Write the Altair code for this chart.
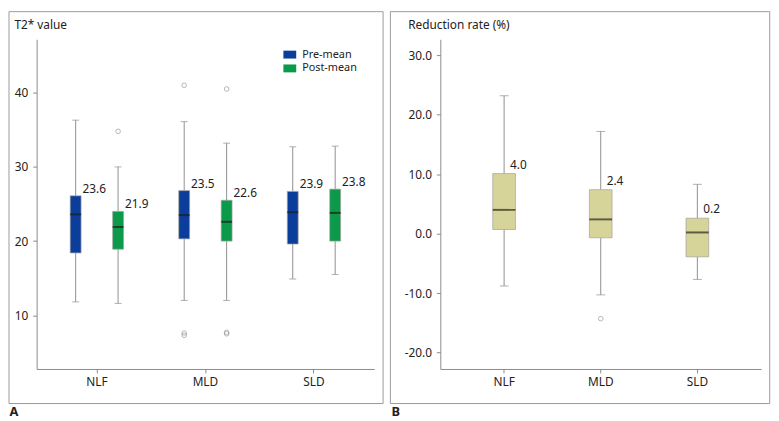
import altair as alt
import pandas as pd

# ---------------- data ----------------
cats = ["NLF", "MLD", "SLD"]
series = ["Pre-mean", "Post-mean"]

pre_min = [11.8, 12.0, 14.9]
pre_q1 = [18.4, 20.3, 19.6]
pre_med = [23.6, 23.5, 23.9]
pre_q3 = [26.1, 26.8, 26.7]
pre_max = [36.3, 36.1, 32.7]

post_min = [11.6, 12.0, 15.5]
post_q1 = [18.9, 20.0, 20.0]
post_med = [21.9, 22.6, 23.8]
post_q3 = [24.0, 25.5, 27.0]
post_max = [30.0, 33.2, 32.8]

out_cat = ["NLF", "MLD", "MLD", "MLD", "MLD", "MLD", "MLD"]
out_series = ["Post-mean", "Pre-mean", "Pre-mean", "Pre-mean", "Post-mean", "Post-mean", "Post-mean"]
out_val = [34.8, 41.0, 7.6, 7.3, 40.5, 7.7, 7.5]

rate_min = [-8.8, -10.3, -7.7]
rate_q1 = [0.7, -0.7, -3.9]
rate_med = [4.0, 2.4, 0.2]
rate_q3 = [10.1, 7.4, 2.6]
rate_max = [23.2, 17.2, 8.3]
rate_out_cat = ["MLD"]
rate_out_val = [-14.3]

left_ticks = [10, 20, 30, 40]
right_ticks = [-20, -10, 0, 10, 20, 30]

# ---------------- styling ----------------
FONT = "Noto Sans"
BLUE = "#0b3d9b"
GREEN = "#0a9a4a"
TAN = "#d7d49a"
WHISK = "#8f8f8f"
MED = "#1c1c1c"
FRAME = "#9a9a9a"

rows = []
for i, c in enumerate(cats):
    rows.append(dict(cat=c, series=series[0], min=pre_min[i], q1=pre_q1[i], med=pre_med[i], q3=pre_q3[i], max=pre_max[i]))
    rows.append(dict(cat=c, series=series[1], min=post_min[i], q1=post_q1[i], med=post_med[i], q3=post_q3[i], max=post_max[i]))
left_df = pd.DataFrame(rows)
left_out = pd.DataFrame(dict(cat=out_cat, series=out_series, val=out_val))

right_df = pd.DataFrame(dict(cat=cats, min=rate_min, q1=rate_q1, med=rate_med, q3=rate_q3, max=rate_max))
right_out = pd.DataFrame(dict(cat=rate_out_cat, val=rate_out_val))

one = pd.DataFrame({"k": [0]})

# ---------------- left panel ----------------
LW, LH = 342, 334
lx = alt.X("cat:N", sort=cats,
           scale=alt.Scale(domain=cats, paddingInner=0.218, paddingOuter=0.164),
           axis=alt.Axis(title="A", labelAngle=0, titleAngle=0, titleAlign="left",
                         titleBaseline="middle", titleX=-28, titleY=43,
                         titleFontWeight="bold", titleFontSize=13))
lxo = alt.XOffset("series:N", scale=alt.Scale(domain=series, paddingInner=0, paddingOuter=0))
lscale = alt.Scale(domain=[2.76, 47.2], nice=False, zero=False)

lbase = alt.Chart(left_df)
l_frame = alt.Chart(one).mark_rect(fillOpacity=0, stroke=FRAME, strokeWidth=1).encode(
    x=alt.value(-28), x2=alt.value(351), y=alt.value(-28), y2=alt.value(369))
l_box = lbase.mark_bar(size=11, stroke="#a0a0a0", strokeWidth=0.7).encode(
    x=lx, xOffset=lxo,
    y=alt.Y("q1:Q", scale=lscale,
            axis=alt.Axis(values=left_ticks, title="T2* value", titleAngle=0, titleAlign="left",
                          titleBaseline="middle", titleX=-23, titleY=-15)),
    y2="q3:Q",
    color=alt.Color("series:N", scale=alt.Scale(domain=series, range=[BLUE, GREEN]),
                    legend=alt.Legend(title=None, orient="none", legendX=250, legendY=9,
                                      symbolType="M-1,-0.615L1,-0.615L1,0.615L-1,0.615Z",
                                      symbolSize=169, symbolStrokeWidth=0, symbolOpacity=1,
                                      labelFont=FONT, labelFontSize=11, labelColor="#222",
                                      labelOffset=6, rowPadding=2, padding=0)))
l_wlo = lbase.mark_rule(color=WHISK).encode(x=lx, xOffset=lxo, y="min:Q", y2="q1:Q")
l_whi = lbase.mark_rule(color=WHISK).encode(x=lx, xOffset=lxo, y="q3:Q", y2="max:Q")
l_clo = lbase.mark_tick(size=7, thickness=1, color=WHISK).encode(x=lx, xOffset=lxo, y="min:Q")
l_chi = lbase.mark_tick(size=7, thickness=1, color=WHISK).encode(x=lx, xOffset=lxo, y="max:Q")
l_med = lbase.mark_tick(size=11, thickness=2, color=MED).encode(x=lx, xOffset=lxo, y="med:Q")
l_txt = lbase.mark_text(align="left", baseline="middle", dx=7, dy=-7, font=FONT,
                        fontSize=12, color="#222").encode(
    x=lx, xOffset=lxo, y="q3:Q", text=alt.Text("med:Q", format=".1f"))
l_out = alt.Chart(left_out).mark_point(shape="circle", filled=False, size=22,
                                       color="#808080", strokeWidth=0.8).encode(
    x=lx, xOffset=lxo, y="val:Q")

left = alt.layer(l_frame, l_wlo, l_whi, l_box, l_med, l_clo, l_chi, l_txt, l_out).properties(
    width=LW, height=LH)

# ---------------- right panel ----------------
RW, RH = 325, 334
rx = alt.X("cat:N", sort=cats,
           scale=alt.Scale(domain=cats, paddingInner=0, paddingOuter=0.16),
           axis=alt.Axis(title="B", labelAngle=0, titleAngle=0, titleAlign="left",
                         titleBaseline="middle", titleX=-50, titleY=43,
                         titleFontWeight="bold", titleFontSize=13))
rscale = alt.Scale(domain=[-22.77, 32.7], nice=False, zero=False)

rbase = alt.Chart(right_df)
r_frame = alt.Chart(one).mark_rect(fillOpacity=0, stroke=FRAME, strokeWidth=1).encode(
    x=alt.value(-50.6), x2=alt.value(333.7), y=alt.value(-28), y2=alt.value(369))
r_box = rbase.mark_bar(size=23, color=TAN, stroke="#a0a0a0", strokeWidth=0.7).encode(
    x=rx,
    y=alt.Y("q1:Q", scale=rscale,
            axis=alt.Axis(values=right_ticks,
                          labelExpr="replace(format(datum.value, '.1f'), '\u2212', '-')",
                          title="Reduction rate (%)",
                          titleAngle=0, titleAlign="left", titleBaseline="middle",
                          titleX=-33, titleY=-15)),
    y2="q3:Q")
r_wlo = rbase.mark_rule(color=WHISK).encode(x=rx, y="min:Q", y2="q1:Q")
r_whi = rbase.mark_rule(color=WHISK).encode(x=rx, y="q3:Q", y2="max:Q")
r_clo = rbase.mark_tick(size=9, thickness=1, color=WHISK).encode(x=rx, y="min:Q")
r_chi = rbase.mark_tick(size=9, thickness=1, color=WHISK).encode(x=rx, y="max:Q")
r_med = rbase.mark_tick(size=23, thickness=2, color="#2a2a1a").encode(x=rx, y="med:Q")
r_txt = rbase.mark_text(align="left", baseline="middle", dx=6, dy=-9, font=FONT,
                        fontSize=12, color="#222").encode(
    x=rx, y="q3:Q", text=alt.Text("med:Q", format=".1f"))
r_out = alt.Chart(right_out).mark_point(shape="circle", filled=False, size=22,
                                        color="#808080", strokeWidth=0.8).encode(
    x=rx, y="val:Q")

right = alt.layer(r_frame, r_wlo, r_whi, r_box, r_med, r_clo, r_chi, r_txt, r_out).properties(
    width=RW, height=RH)

chart = alt.hconcat(left, right, spacing=5).properties(padding=0).configure_view(
    strokeWidth=0).configure_axis(
    grid=False, domainColor="#8a8a8a", tickColor="#8a8a8a", tickSize=4,
    labelFont=FONT, labelFontSize=12, labelColor="#222", labelPadding=4,
    titleFont=FONT, titleFontSize=12, titleFontWeight="normal", titleColor="#222",
    titlePadding=0).configure_axisY(labelPadding=5)

chart.save("out.html", embed_options={"renderer": "svg", "actions": False})
